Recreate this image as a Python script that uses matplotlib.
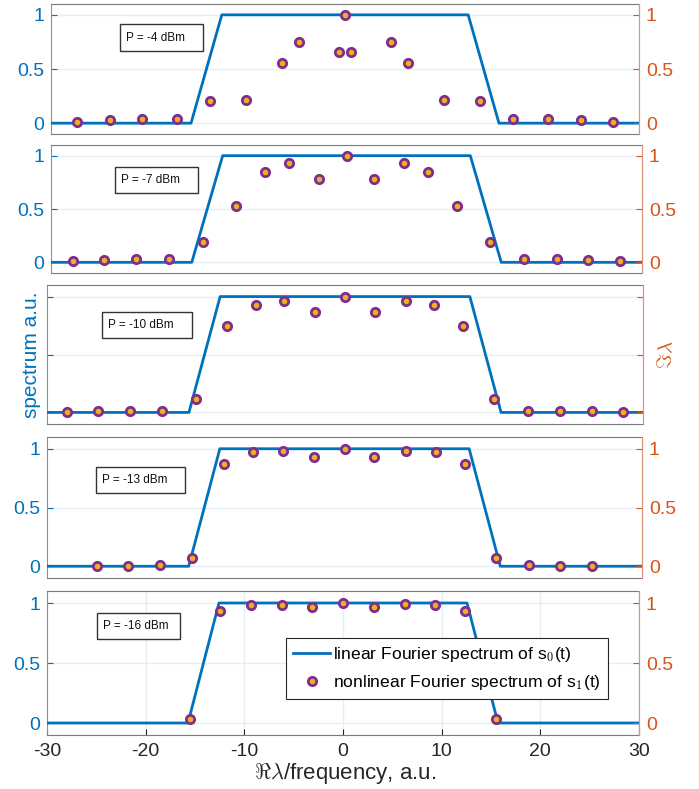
import numpy as np
import matplotlib
matplotlib.use("Agg")
import matplotlib.pyplot as plt
from matplotlib.patches import Rectangle

plt.rcParams['font.family'] = ['Liberation Sans', 'DejaVu Sans']
plt.rcParams['mathtext.fontset'] = 'cm'

# ---------------- data ----------------
lin_x = [-30, -15.71, -12.57, 12.57, 15.71, 30]
lin_y = [0, 0, 1, 1, 0, 0]

powers = ["P = -4 dBm", "P = -7 dBm", "P = -10 dBm", "P = -13 dBm", "P = -16 dBm"]

p1_x = [-27.3, -24.0, -20.7, -17.1, -13.8, -10.1, -6.4, -4.7, -0.6, 0, 0.6, 4.7, 6.4, 10.1, 13.8, 17.1, 20.7, 24.1, 27.3]
p1_y = [0.01, 0.025, 0.035, 0.035, 0.205, 0.21, 0.56, 0.75, 0.66, 1.0, 0.66, 0.75, 0.56, 0.21, 0.205, 0.035, 0.035, 0.025, 0.01]

p2_x = [-27.8, -24.6, -21.4, -18.0, -14.6, -11.2, -8.3, -5.8, -2.8, 0, 2.8, 5.8, 8.3, 11.2, 14.6, 18.0, 21.4, 24.5, 27.8]
p2_y = [0.012, 0.022, 0.028, 0.028, 0.19, 0.53, 0.85, 0.93, 0.78, 1.0, 0.78, 0.93, 0.85, 0.53, 0.19, 0.028, 0.028, 0.022, 0.012]

p3_x = [-28.0, -24.9, -21.6, -18.4, -15.0, -11.9, -9.0, -6.1, -3.0, 0, 3.0, 6.1, 9.0, 11.9, 15.0, 18.4, 21.6, 24.9, 28.0]
p3_y = [0.006, 0.012, 0.012, 0.014, 0.12, 0.75, 0.93, 0.96, 0.87, 1.0, 0.87, 0.96, 0.93, 0.75, 0.12, 0.014, 0.012, 0.012, 0.006]

p4_x = [-25.0, -21.8, -18.6, -15.4, -12.2, -9.2, -6.2, -3.1, 0, 3.0, 6.2, 9.2, 12.2, 15.3, 18.6, 21.7, 25.0]
p4_y = [0.006, 0.006, 0.011, 0.07, 0.87, 0.97, 0.98, 0.93, 1.0, 0.93, 0.98, 0.97, 0.87, 0.07, 0.011, 0.006, 0.006]

p5_x = [-15.5, -12.5, -9.3, -6.2, -3.1, 0, 3.1, 6.25, 9.35, 12.4, 15.5]
p5_y = [0.033, 0.936, 0.986, 0.986, 0.967, 1.0, 0.967, 0.99, 0.986, 0.936, 0.033]

nl_x = [p1_x, p2_x, p3_x, p4_x, p5_x]
nl_y = [p1_y, p2_y, p3_y, p4_y, p5_y]

yticks = [0, 0.5, 1]
ytick_labels = ["0", "0.5", "1"]
xticks = [-30, -20, -10, 0, 10, 20, 30]
xtick_labels = ["-30", "-20", "-10", "0", "10", "20", "30"]

# ---------------- layout / style ----------------
W, H = 699, 789
BLUE = '#0072BD'
ORANGE = '#D95319'
GRID = '#e4eef7'
FRAME = '#7a7a7a'

# axes pixel boxes: left, right, top, bottom
boxes = [(51, 639, 4, 134), (51, 642, 145, 273), (47, 643, 285, 424),
         (47, 642, 437, 578), (47, 639, 591, 735)]
# annotation boxes in axes fraction: x0, x1, y0, y1
ann = [(0.117, 0.259, 0.638, 0.846), (0.108, 0.249, 0.625, 0.828),
       (0.092, 0.243, 0.619, 0.806), (0.082, 0.232, 0.603, 0.787),
       (0.084, 0.225, 0.667, 0.847)]

TICKFS = 14

fig = plt.figure(figsize=(W / 100, H / 100), dpi=100)

for i in range(5):
    l, r, t, b = boxes[i]
    ax = fig.add_axes([l / W, 1 - b / H, (r - l) / W, (b - t) / H])
    ax.set_xlim(-30, 30)
    ax.set_ylim(-0.1, 1.1)
    ax.set_yticks(yticks)
    ax.set_yticklabels(ytick_labels)
    ax.yaxis.grid(True, color=GRID, lw=1.0)
    if i == 4:
        ax.set_xticks(xticks)
        ax.set_xticklabels(xtick_labels)
        ax.xaxis.grid(True, color=GRID, lw=1.0)
        ax.tick_params(axis='x', labelsize=TICKFS, colors='#262626', direction='in', length=4, pad=6)
    else:
        ax.set_xticks([])
    ax.set_axisbelow(True)
    line, = ax.plot(lin_x, lin_y, color=BLUE, lw=2.0, zorder=3,
                    label='linear Fourier spectrum of s$_0$(t)')
    ax.tick_params(axis='y', colors=BLUE, labelsize=TICKFS, direction='in', length=4, pad=5)
    if i == 2:
        ax.set_yticklabels([])
        ax.set_ylabel('spectrum a.u.', color=BLUE, fontsize=15, labelpad=-1)
    for s in ['top', 'bottom']:
        ax.spines[s].set_color(FRAME)
    ax.spines['left'].set_color('#6f98bd')
    ax.spines['right'].set_color('#d9957a')

    ax2 = ax.twinx()
    ax2.set_ylim(-0.1, 1.1)
    ax2.set_yticks(yticks)
    ax2.set_yticklabels(ytick_labels)
    ax2.tick_params(axis='y', colors=ORANGE, labelsize=TICKFS, direction='in', length=4, pad=5)
    ax2.spines['right'].set_color('#d9957a')
    ax2.spines['left'].set_visible(False)
    ax2.spines['top'].set_visible(False)
    ax2.spines['bottom'].set_visible(False)
    pts, = ax2.plot(nl_x[i], nl_y[i], ls='none', marker='o', ms=6, mew=2.0,
                    mfc='#EDB120', mec='#7E2F8E', zorder=4,
                    label='nonlinear Fourier spectrum of s$_1$(t)')
    if i == 2:
        ax2.set_yticklabels([])
        ax2.set_ylabel(r'$\Im\lambda$', color=ORANGE, fontsize=15, labelpad=5, rotation=90)

    x0, x1, y0, y1 = ann[i]
    ax2.add_patch(Rectangle((x0, y0), x1 - x0, y1 - y0, transform=ax.transAxes,
                            fill=True, facecolor='white', edgecolor='#333333', lw=1.0, zorder=5))
    ax2.text(x0 + 6 / (r - l), (y0 + y1) / 2, powers[i], transform=ax.transAxes,
             ha='left', va='center', fontsize=8.5, color='#111111', zorder=6)

    if i == 4:
        leg = ax2.legend([line, pts], [line.get_label(), pts.get_label()],
                         loc='upper left', bbox_to_anchor=(0.404, 0.674),
                         borderaxespad=0, fontsize=12.6, frameon=True, fancybox=False,
                         edgecolor='#262626', framealpha=1, handlelength=2.1,
                         handletextpad=0.2, borderpad=0.4, labelspacing=0.5)
        leg.get_frame().set_linewidth(0.8)
        leg.set_zorder(10)

fig.text(345 / W, 1 - 774 / H, r'$\Re\lambda$/frequency, a.u.', ha='center', va='center',
         fontsize=16, color='#262626')

fig.savefig('out.png', dpi=100)
